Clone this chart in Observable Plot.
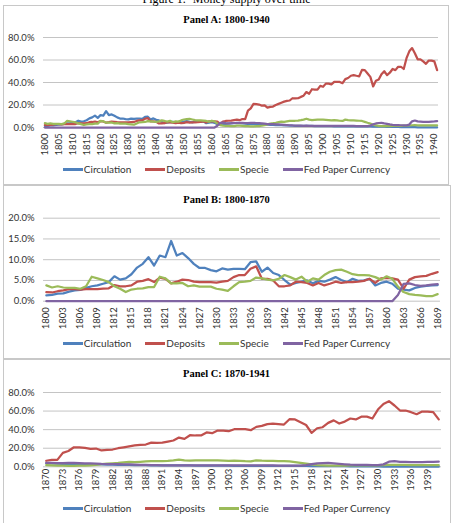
<!DOCTYPE html>
<html><head><meta charset="utf-8">
<script src="https://cdn.jsdelivr.net/npm/d3@7"></script>
<script src="https://cdn.jsdelivr.net/npm/@observablehq/plot@0.6"></script>
<style>
body{margin:0;background:#fff;}
#page{position:relative;width:453px;height:523px;overflow:hidden;font-family:Lato,sans-serif;background:#fff;}
.box{position:absolute;border:1px solid #c8c8c8;box-sizing:border-box;}
.ftitle{position:absolute;left:0;width:453px;text-align:center;font:12px "Liberation Serif",serif;line-height:12px;top:-7.5px;color:#000;}
.ptitle{position:absolute;left:0;width:453px;text-align:center;font:bold 10.5px "Liberation Serif",serif;line-height:12px;color:#000;}
.legend{position:absolute;left:0;width:453px;display:flex;justify-content:center;align-items:center;font-size:10px;color:#333;line-height:12px;}
.item{display:flex;align-items:center;margin:0 7px;}
.sw{width:20px;height:3px;margin-right:1px;}
.plot{position:absolute;left:0;}
</style></head><body><div id="page"></div>
<script>
const startYear = 1800;
const years = d3.range(1800, 1942);
const seriesNames = ["Circulation", "Deposits", "Specie", "Fed Paper Currency"];
const colors = ["#4F81BD", "#C0504D", "#9BBB59", "#8064A2"];

const circulation = [
 1.4,1.5,1.8,1.9,2.3,2.6,2.7,3.2,3.6,3.8,
 4.2,4.6,6.0,5.2,5.5,6.5,8.1,9.0,10.6,8.6,
 11.0,10.6,14.5,11.0,11.6,10.4,9.0,8.0,8.0,7.5,
 7.2,7.9,7.6,7.8,7.8,7.7,9.4,9.6,7.1,8.1,
 6.8,6.3,5.1,4.0,4.4,4.7,5.0,4.3,4.9,4.7,
 5.2,5.8,5.1,4.6,5.4,4.9,5.0,5.4,3.8,4.4,
 4.7,4.2,3.0,2.8,2.6,3.2,3.5,3.7,3.8,3.9,
 3.8,3.6,3.4,3.2,3.1,3.0,2.9,2.8,2.7,2.6,
 2.5,2.4,2.3,2.2,2.1,2.0,1.9,1.8,1.7,1.6,
 1.5,1.5,1.5,1.4,1.4,1.4,1.4,1.3,1.3,1.3,
 1.2,1.2,1.2,1.2,1.1,1.1,1.1,1.1,1.0,1.0,
 1.0,1.0,1.0,1.0,0.9,0.9,0.9,0.9,0.8,0.8,
 0.8,0.7,0.7,0.6,0.6,0.5,0.5,0.5,0.4,0.4,
 0.4,0.3,0.3,0.3,0.2,0.2,0.2,0.2,0.1,0.1,
 0.1,0.1];
const deposits = [
 2.2,2.1,2.4,2.6,2.9,2.9,2.8,2.9,2.9,2.9,
 3.0,3.1,3.9,3.6,3.6,3.8,4.7,4.9,5.3,4.6,
 5.7,5.4,4.3,4.7,5.2,5.1,4.7,4.6,4.6,4.6,
 4.5,4.7,4.9,5.8,6.3,6.3,7.8,8.4,5.4,5.4,
 5.0,3.6,3.6,3.8,4.7,4.6,4.4,3.8,4.4,3.8,
 4.2,4.7,4.4,4.6,4.6,4.7,4.9,5.4,4.4,5.5,
 5.6,5.5,5.2,3.0,5.2,5.8,6.0,6.1,6.6,7.0,
 6.5,7.5,7.5,15.0,17.0,21.0,20.8,20.4,19.4,19.7,
 17.6,18.3,18.6,20.0,21.0,22.0,23.0,23.7,24.0,26.0,
 25.8,26.0,27.2,28.3,31.5,30.0,34.0,33.7,33.7,37.0,
 36.2,39.0,39.0,38.3,40.5,40.5,40.5,39.4,43.0,44.0,
 46.0,46.6,46.0,45.5,51.2,51.0,48.0,45.0,36.5,41.5,
 42.6,47.3,50.0,46.6,48.7,52.0,51.0,54.0,54.0,52.0,
 61.6,67.7,70.6,66.0,60.6,60.6,58.8,56.6,59.5,59.5,
 58.8,51.0];
const specie = [
 3.8,3.3,3.6,3.3,3.2,3.2,3.0,3.6,5.9,5.5,
 5.1,4.6,3.6,3.0,2.2,2.8,3.0,3.1,3.4,3.4,
 5.9,5.5,4.3,4.3,4.4,3.6,3.8,3.5,3.5,3.5,
 3.0,2.8,2.5,3.6,4.6,4.7,4.9,5.7,5.5,5.2,
 5.0,5.4,6.3,5.8,5.2,5.9,4.7,5.5,5.2,6.3,
 7.1,7.5,7.6,7.1,6.5,6.3,6.3,6.2,5.8,5.2,
 6.0,5.4,3.5,2.2,1.7,1.5,1.4,1.2,1.2,1.7,
 1.7,1.5,1.3,1.2,1.0,1.0,1.2,1.3,1.6,2.0,
 2.8,3.5,3.8,4.2,4.8,5.3,5.0,5.4,5.8,6.0,
 6.0,6.2,6.5,7.0,7.8,7.0,6.6,6.8,7.0,7.0,
 7.0,6.8,6.6,6.3,6.6,6.4,6.0,5.8,7.0,6.6,
 6.4,6.3,6.2,6.0,5.8,5.0,4.2,3.5,2.5,1.8,
 1.5,1.2,1.2,1.3,1.3,1.4,1.4,1.5,1.5,1.6,
 1.6,1.8,2.0,2.2,2.0,2.0,1.9,1.9,1.9,1.8,
 1.8,1.8];
const fedPaper = [
 0,0,0,0,0,0,0,0,0,0,
 0,0,0,0,0,0,0,0,0,0,
 0,0,0,0,0,0,0,0,0,0,
 0,0,0,0,0,0,0,0,0,0,
 0,0,0,0,0,0,0,0,0,0,
 0,0,0,0,0,0,0,0,0,0,
 0,0,1.5,4.2,4.3,3.9,3.7,3.8,4.0,4.1,
 4.2,4.1,4.0,4.0,4.1,4.2,4.0,3.8,3.6,3.4,
 3.1,3.0,2.9,2.8,2.7,2.6,2.4,2.2,2.0,1.8,
 1.7,1.6,1.6,1.5,1.6,1.5,1.5,1.5,1.4,1.4,
 1.4,1.4,1.4,1.4,1.4,1.4,1.4,1.4,1.4,1.4,
 1.4,1.4,1.3,1.3,1.3,1.3,1.2,1.8,2.8,3.6,
 4.0,4.1,3.6,3.2,2.7,2.3,2.2,2.1,2.0,1.8,
 1.9,2.6,5.5,6.2,5.4,5.2,5.0,5.0,5.1,5.3,
 5.4,5.6];
const seriesValues = [circulation, deposits, specie, fedPaper];

const figureTitle = "Figure 1.- Money supply over time";
const panelTitles = ["Panel A: 1800-1940", "Panel B: 1800-1870", "Panel C: 1870-1941"];
const ticksA = [1800,1805,1810,1815,1820,1825,1830,1835,1840,1845,1850,1855,1860,1865,1870,1875,1880,1885,1890,1895,1900,1905,1910,1915,1920,1925,1930,1935,1940];
const ticksB = [1800,1803,1806,1809,1812,1815,1818,1821,1824,1827,1830,1833,1836,1839,1842,1845,1848,1851,1854,1857,1860,1863,1866,1869];
const ticksC = [1870,1873,1876,1879,1882,1885,1888,1891,1894,1897,1900,1903,1906,1909,1912,1915,1918,1921,1924,1927,1930,1933,1936,1939];
const yTicksWide = [0,20,40,60,80];
const yTicksNarrow = [0,5,10,15,20];

const page = document.getElementById("page");

function el(cls, style, text) {
  const d = document.createElement("div");
  d.className = cls;
  Object.assign(d.style, style || {});
  if (text != null) d.textContent = text;
  page.appendChild(d);
  return d;
}

// boxes
el("box", {left:"3px", top:"5px", width:"446px", height:"180px"});
el("box", {left:"3px", top:"185px", width:"448px", height:"174px"});
el("box", {left:"3px", top:"359px", width:"448px", height:"180px"});
el("ftitle", {}, figureTitle);

function legend(cy) {
  const lg = el("legend", {top: (cy - 6) + "px"});
  seriesNames.forEach((n, i) => {
    const it = document.createElement("div");
    it.className = "item";
    const sw = document.createElement("div");
    sw.className = "sw";
    sw.style.background = colors[i];
    const tx = document.createElement("span");
    tx.textContent = n;
    it.appendChild(sw); it.appendChild(tx);
    lg.appendChild(it);
  });
}

function panel(cfg) {
  const rows = [];
  seriesNames.forEach((name, i) => {
    years.forEach((yr, j) => {
      if (yr >= cfg.from && yr <= cfg.to) rows.push({series: name, year: yr, value: seriesValues[i][j]});
    });
  });
  const svg = Plot.plot({
    width: 453, height: cfg.height,
    marginLeft: 43, marginRight: cfg.mr, marginTop: cfg.mt, marginBottom: cfg.mb,
    style: {fontFamily: "Lato, sans-serif", fontSize: "9.5px", color: "#333", background: "transparent", overflow: "visible"},
    x: {type: "linear", domain: [cfg.from - 0.5, cfg.to + 0.5], ticks: cfg.xTicks, tickFormat: d => String(d), tickRotate: -90, tickSize: 0, tickPadding: cfg.xpad, label: null},
    y: {domain: [0, cfg.ymax], ticks: cfg.yTicks, tickFormat: d => d.toFixed(1) + "%", tickSize: 0, tickPadding: 9, label: null},
    color: {domain: seriesNames, range: colors},
    marks: [
      Plot.ruleY(cfg.yTicks, {stroke: "#c4c4c4"}),
      Plot.line(rows, {x: "year", y: "value", z: "series", stroke: "series", strokeWidth: 2.25})
    ]
  });
  svg.classList.add("plot");
  svg.style.top = cfg.top + "px";
  page.appendChild(svg);
  el("ptitle", {top: (cfg.titleY - 6) + "px"}, cfg.title);
  legend(cfg.legendY);
}

panel({title: panelTitles[0], from: 1800, to: 1941, xTicks: ticksA, yTicks: yTicksWide, ymax: 80,
  top: 30, mt: 7, height: 129, mb: 32, mr: 15, xpad: 6, titleY: 20, legendY: 169});
panel({title: panelTitles[1], from: 1800, to: 1869, xTicks: ticksB, yTicks: yTicksNarrow, ymax: 20,
  top: 210, mt: 7.7, height: 122.7, mb: 32, mr: 13, xpad: 6, titleY: 200, legendY: 343});
panel({title: panelTitles[2], from: 1870, to: 1941, xTicks: ticksC, yTicks: yTicksWide, ymax: 80,
  top: 385, mt: 7, height: 111.3, mb: 30, mr: 12, xpad: 2, titleY: 374, legendY: 508});
</script></body></html>
